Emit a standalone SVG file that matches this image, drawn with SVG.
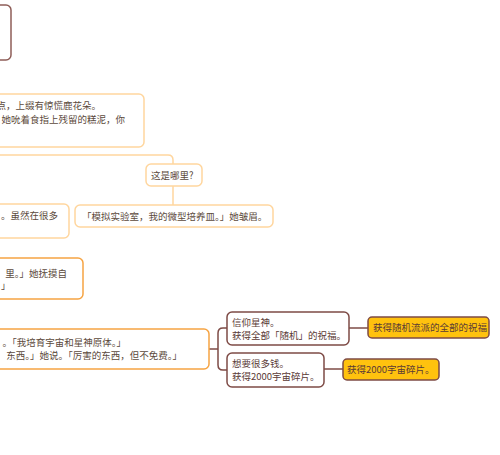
<svg xmlns="http://www.w3.org/2000/svg" width="500" height="455" viewBox="0 0 500 455">
<style>
text{font-family:"Noto Sans CJK SC","Liberation Sans",sans-serif;font-size:9.5px;fill:#5C4A3C}
.lo{fill:#fff;stroke:#FFD69E;stroke-width:1.5}
.do{fill:#fff;stroke:#F6A443;stroke-width:1.5}
.br{fill:#fff;stroke:#7E4B46;stroke-width:1.5}
.ye{fill:#FFC20E;stroke:#7E4B46;stroke-width:1.5}
.bt{fill:#5A3A36}
.e{text-anchor:end}
.cl{fill:none;stroke:#FFD69E;stroke-width:1.5}
.cb{fill:none;stroke:#7E4B46;stroke-width:1.5}
</style>
<rect width="500" height="455" fill="#fff"/>
<g id="connectors">
<path class="cl" d="M-5,155 H168 Q173,155 173,160 V164"/>
<path class="cl" d="M173,186 V205"/>
<path class="cb" d="M209,349 H218"/>
<path class="cb" d="M227,328 H223 Q218,328 218,333 V365 Q218,370 223,370 H227"/>
<path class="cb" d="M349,328 H368"/>
<path class="cb" d="M324,369 H343"/>
</g>
<g id="node-topleft"><rect class="br" x="-10" y="5" width="21" height="55" rx="5" style="stroke:#8E5E58"/></g>
<g id="node-a">
<rect class="lo" x="-10" y="94" width="154" height="53" rx="5"/>
<text class="e" x="101" y="109">点，上缀有惊慌鹿花朵。</text>
<text class="e" x="125" y="123">。她吮着食指上残留的糕泥，你</text>
</g>
<g id="node-where">
<rect class="lo" x="146" y="164" width="56" height="22" rx="5"/>
<text x="151" y="178.5">这是哪里?</text>
</g>
<g id="node-lab">
<rect class="lo" x="75" y="205" width="198" height="22" rx="5"/>
<text x="82" y="219.5">「模拟实验室，我的微型培养皿。」她皱眉。</text>
</g>
<g id="node-b">
<rect class="lo" x="-10" y="204" width="79" height="34" rx="5"/>
<text class="e" x="58" y="218.5">。虽然在很多</text>
</g>
<g id="node-c">
<rect class="do" x="-10" y="258" width="93" height="41" rx="5"/>
<text class="e" x="67" y="276.5">里。」她抚摸自</text>
<text x="1" y="289">」</text>
</g>
<g id="node-d">
<rect class="do" x="-10" y="329" width="219" height="40" rx="5"/>
<text class="e" x="126" y="346">。「我培育宇宙和星神原体。」</text>
<text class="e" x="182" y="359">东西。」她说。「厉害的东西，但不免费。」</text>
</g>
<g id="node-faith">
<rect class="br" x="227" y="312" width="122" height="33" rx="5"/>
<text class="bt" x="232" y="325.5">信仰星神。</text>
<text class="bt" x="232" y="338.5">获得全部「随机」的祝福。</text>
</g>
<g id="node-money">
<rect class="br" x="227" y="353" width="97" height="34" rx="5"/>
<text class="bt" x="232" y="366.5">想要很多钱。</text>
<text class="bt" x="232" y="379.5">获得2000宇宙碎片。</text>
</g>
<g id="node-bless">
<rect class="ye" x="368" y="317" width="121" height="21" rx="4"/>
<text class="bt" x="373" y="331">获得随机流派的全部的祝福</text>
</g>
<g id="node-shards">
<rect class="ye" x="343" y="359" width="96" height="21" rx="4"/>
<text class="bt" x="347" y="373">获得2000宇宙碎片。</text>
</g>
</svg>
